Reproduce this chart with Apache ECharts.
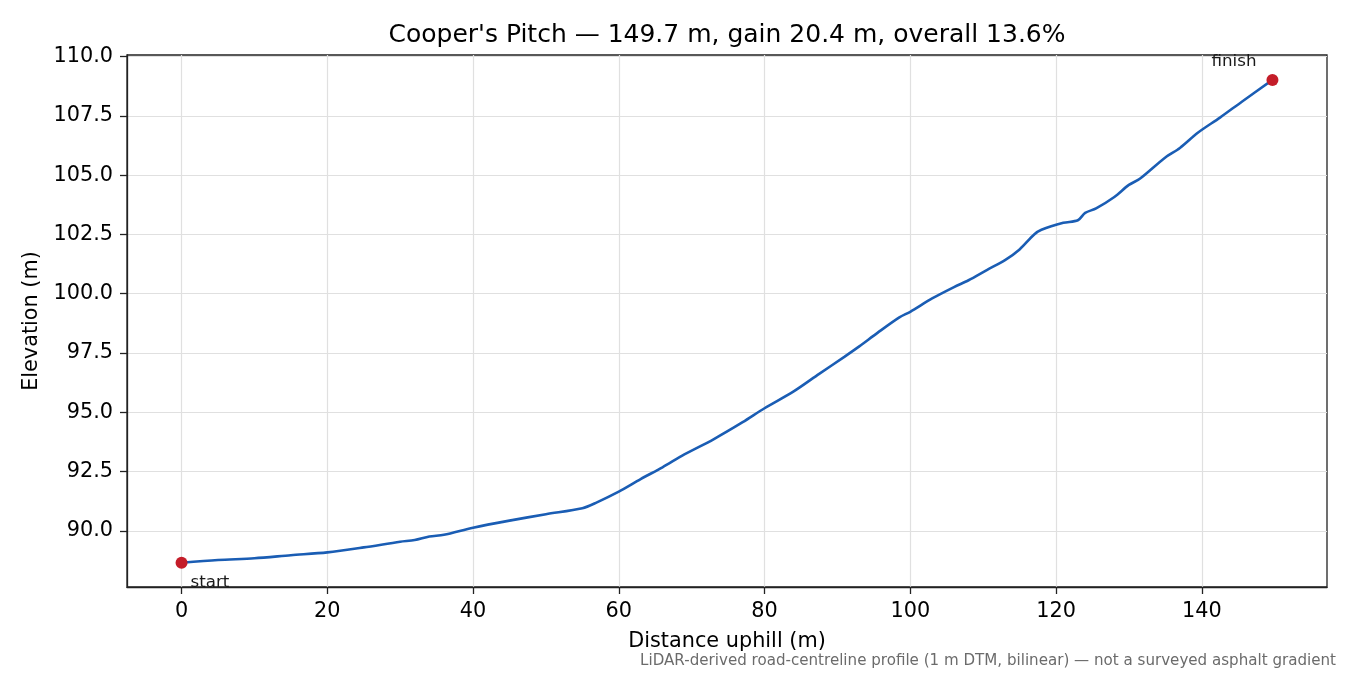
<!DOCTYPE html>
<html>
<head>
<meta charset="utf-8">
<title>Cooper's Pitch profile</title>
<script src="https://cdn.jsdelivr.net/npm/echarts@6/dist/echarts.min.js"></script>
<style>
  html, body { margin: 0; padding: 0; background: #fff; }
  #chart { width: 1350px; height: 675px; }
</style>
</head>
<body>
<div id="chart"></div>
<script>
// Profile samples (distance uphill, elevation)
const distance = [0, 5, 10, 15, 20, 25, 30, 32, 34, 36, 40, 45, 50, 55, 57, 60, 63, 66, 69, 73,
  77, 80, 84, 87.5, 91, 93, 95.5, 98.5, 100, 103, 106, 108, 110.5, 113, 115, 117, 118, 121, 123, 124,
  125.5, 128, 130, 131.5, 135, 137, 139.5, 142.5, 145.5, 149.7];
const elevation = [88.65, 88.77, 88.84, 88.97, 89.09, 89.3, 89.54, 89.61, 89.76, 89.83, 90.13, 90.43,
  90.7, 90.95, 91.2, 91.65, 92.18, 92.68, 93.22, 93.86, 94.58, 95.17, 95.88, 96.62, 97.35, 97.78,
  98.35, 99.0, 99.24, 99.8, 100.28, 100.57, 101.0, 101.42, 101.87, 102.5, 102.7, 102.99, 103.1,
  103.41, 103.6, 104.08, 104.59, 104.85, 105.75, 106.15, 106.8, 107.43, 108.1, 109.02];

const xTicks = [0, 20, 40, 60, 80, 100, 120, 140];
const yTicks = [90, 92.5, 95, 97.5, 100, 102.5, 105, 107.5, 110];
const endLabels = ['start', 'finish'];

const titleText = "Cooper's Pitch \u2014 149.7 m, gain 20.4 m, overall 13.6%";
const noteText = 'LiDAR-derived road-centreline profile (1 m DTM, bilinear) \u2014 not a surveyed asphalt gradient';

const FONT = 'DejaVu Sans';
const last = distance.length - 1;

const chart = echarts.init(document.getElementById('chart'), null, { renderer: 'canvas' });

const axisCommon = {
  type: 'value',
  axisLine: { show: true, onZero: false, lineStyle: { color: '#222', width: 1.3 } },
  axisTick: { show: true, length: 7, lineStyle: { color: '#222', width: 1.3 } },
  splitLine: { show: true, lineStyle: { color: '#e0e0e0', width: 1.2 } },
  nameLocation: 'middle',
  nameTextStyle: { fontFamily: FONT, fontSize: 20.8, color: '#000' },
};

const endLabel = (text, align, offset) => ({
  show: true, formatter: text, position: 'inside',
  align, verticalAlign: 'middle', offset,
  fontFamily: FONT, fontSize: 16.7, color: '#1a1a1a',
});

chart.setOption({
  animation: false,
  textStyle: { fontFamily: FONT },
  title: {
    text: titleText,
    left: 722,
    textAlign: 'center',
    top: 18,
    textStyle: { fontFamily: FONT, fontSize: 25, fontWeight: 'normal', color: '#000' },
  },
  grid: {
    left: 127, right: 23, top: 55, bottom: 88,
    containLabel: false,
    show: true,
    borderColor: '#222',
    borderWidth: 1.3,
    backgroundColor: 'transparent',
  },
  xAxis: {
    ...axisCommon,
    min: -7.485,
    max: 157.185,
    name: 'Distance uphill (m)',
    nameGap: 44,
    axisTick: { ...axisCommon.axisTick, customValues: xTicks },
    axisLabel: {
      customValues: xTicks,
      margin: 14,
      fontFamily: FONT, fontSize: 20.8, color: '#000',
    },
  },
  yAxis: {
    ...axisCommon,
    min: 87.63,
    max: 110.07,
    name: 'Elevation (m)',
    nameGap: 79,
    axisTick: { ...axisCommon.axisTick, customValues: yTicks },
    axisLabel: {
      customValues: yTicks,
      margin: 14,
      fontFamily: FONT, fontSize: 20.8, color: '#000',
      formatter: v => v.toFixed(1),
    },
  },
  series: [
    {
      type: 'line',
      data: distance.map((d, i) => [d, elevation[i]]),
      showSymbol: false,
      smooth: 0.3,
      lineStyle: { color: '#1a5db4', width: 2.6 },
      z: 2,
    },
    {
      type: 'scatter',
      symbolSize: 12,
      itemStyle: { color: '#c41d29', opacity: 1 },
      z: 3,
      data: [
        { value: [distance[0], elevation[0]], label: endLabel(endLabels[0], 'left', [9, 20]) },
        { value: [distance[last], elevation[last]], label: endLabel(endLabels[1], 'right', [-16, -18]) },
      ],
    },
  ],
  graphic: [
    {
      type: 'text',
      right: 14,
      top: 654,
      style: { text: noteText, fontFamily: FONT, fontSize: 15.1, fill: '#6b6b6b' },
    },
  ],
});
</script>
</body>
</html>
